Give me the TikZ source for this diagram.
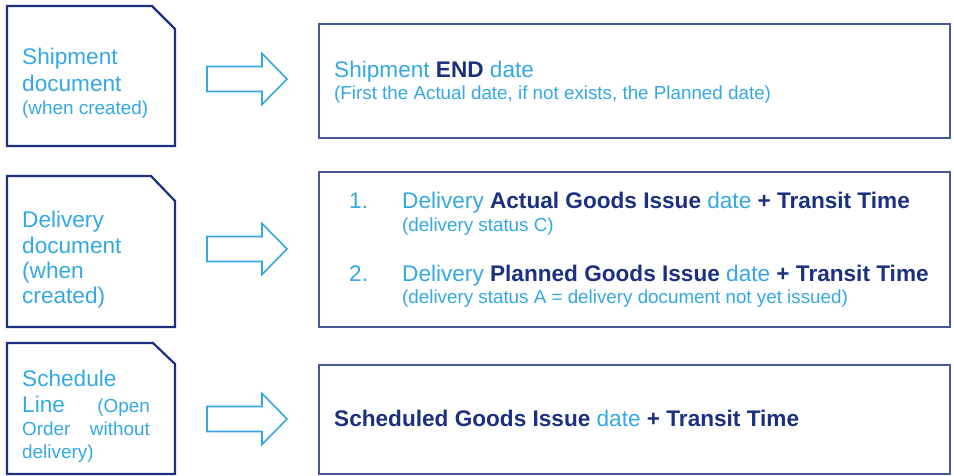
\documentclass[tikz,border=0pt]{standalone}
\usepackage{fontspec}
\setmainfont{Liberation Sans}
\usetikzlibrary{positioning}
\definecolor{navy}{RGB}{28,48,128}
\definecolor{skyblue}{RGB}{52,168,228}
\definecolor{framegray}{RGB}{72,88,152}

\tikzset{
  docbox/.style={draw=navy, line width=2.2pt, line join=miter},
  resbox/.style={draw=framegray, line width=1.3pt},
  arrowline/.style={draw=skyblue, line width=1.6pt, fill=white, line join=miter},
  bigtxt/.style={font=\fontsize{22.6}{26}\selectfont, text=skyblue, inner sep=0pt, anchor=base west},
  smalltxt/.style={font=\fontsize{18.9}{22}\selectfont, text=skyblue, inner sep=0pt, anchor=base west},
  subtxt/.style={font=\fontsize{18.8}{22}\selectfont, text=skyblue, inner sep=0pt, anchor=base west},
  fatarrow/.pic={
    \draw[arrowline] (0,-12.5) -- (55,-12.5) -- (55,-25.5) -- (80,0)
      -- (55,25.5) -- (55,12.5) -- (0,12.5) -- cycle;
  }
}
\newcommand{\hl}[1]{\textbf{\color{navy}#1}}

\begin{document}
\begin{tikzpicture}[x=1pt, y=-1pt]
  \useasboundingbox (0,0) rectangle (954,476);

  % Document boxes (left)
  \draw[docbox] (7,6) -- (152,6) -- (175,29) -- (175,146) -- (7,146) -- cycle;
  \draw[docbox] (7,176) -- (151,176) -- (175,201) -- (175,327) -- (7,327) -- cycle;
  \draw[docbox] (7,343) -- (153,343) -- (175,364) -- (175,474) -- (7,474) -- cycle;

  % Result boxes (right)
  \draw[resbox] (319,24) rectangle (950,138);
  \draw[resbox] (319,172) rectangle (950,327);
  \draw[resbox] (319,365) rectangle (950,474);

  % Arrows
  \pic at (207,79) {fatarrow};
  \pic at (207,249) {fatarrow};
  \pic at (207,419) {fatarrow};

  % Shipment
  \node[bigtxt] (shipA) at (22,65) {Shipment};
  \node[bigtxt] (shipB) at (22,92) {document};
  \node[smalltxt] (shipC) at (22,115) {(when created)};

  % Delivery
  \node[bigtxt] (delA) at (22,228) {Delivery};
  \node[bigtxt] (delB) at (22,253) {document};
  \node[bigtxt] (delC) at (22,278) {(when};
  \node[bigtxt] (delD) at (22,303) {created)};

  % Schedule line
  \node[bigtxt] (schA) at (22,386) {Schedule};
  \node[bigtxt] (schB) at (22,412) {Line};
  \node[smalltxt, anchor=base east] (schC) at (150,412) {(Open};
  \node[smalltxt] (schD) at (22,435) {Order};
  \node[smalltxt, anchor=base east] (schE) at (150,435) {without};
  \node[smalltxt] (schF) at (22,458) {delivery)};

  % Shipment result
  \node[bigtxt] (endA) at (334,78) {Shipment \hl{END} date};
  \node[subtxt] (endB) at (334,100) {(First the Actual date, if not exists, the Planned date)};

  % Delivery result
  \node[bigtxt] (numA) at (349,209) {1.};
  \node[bigtxt] (actA) at (402,209) {Delivery \hl{Actual Goods Issue} date \hl{+ Transit Time}};
  \node[subtxt] (actB) at (402,232) {(delivery status C)};
  \node[bigtxt] (numB) at (349,281) {2.};
  \node[bigtxt] (plnA) at (402,281) {Delivery \hl{Planned Goods Issue} date \hl{+ Transit Time}};
  \node[subtxt] (plnB) at (402,303) {(delivery status A = delivery document not yet issued)};

  % Schedule result
  \node[bigtxt] (schR) at (334,426) {\hl{Scheduled Goods Issue} date \hl{+ Transit Time}};
\end{tikzpicture}
\end{document}
